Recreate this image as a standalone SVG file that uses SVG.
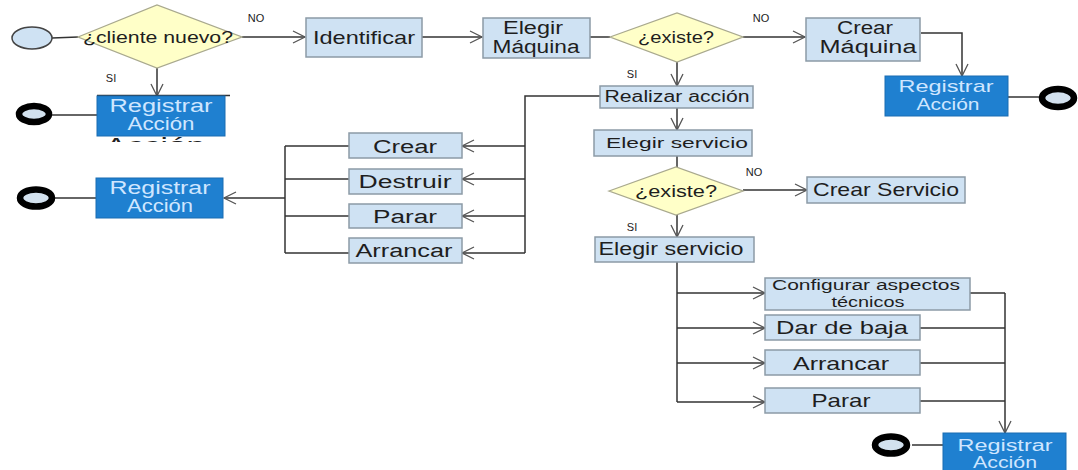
<svg xmlns="http://www.w3.org/2000/svg" width="1078" height="470" viewBox="0 0 1078 470">
  <defs>
    <marker id="open" markerUnits="userSpaceOnUse" markerWidth="16" markerHeight="16" refX="13" refY="7" orient="auto">
      <path d="M1,1 L13,7 L1,13" fill="none" stroke="#555" stroke-width="1.3"/>
    </marker>
    <clipPath id="underClip">
      <rect x="90" y="91" width="145" height="51"/>
    </clipPath>
    <style>
      .box { fill: #cfe2f3; stroke: #8c9aa6; stroke-width: 1.5; }
      .dec { fill: #ffffc8; stroke: #a9a98e; stroke-width: 1.3; }
      .reg { fill: #1f80d0; stroke: #1a6db2; stroke-width: 1; }
      .start { fill: #cfe2f3; stroke: #444; stroke-width: 1.5; }
      .end { fill: #d3e1ee; stroke: #000; stroke-width: 6.5; }
      .t { font-family: "Liberation Sans", Arial, sans-serif; fill: #1e1e1e; text-anchor: middle; }
      .tw { fill: #cfe6ff; }
      .tb { fill: #222; }
      .lbl { font-family: "Liberation Sans", Arial, sans-serif; font-size: 11px; fill: #222; text-anchor: middle; }
      .c { fill: none; stroke: #333; stroke-width: 1.5; }
      .a { marker-end: url(#open); }
    </style>
  </defs>
  <rect width="1078" height="470" fill="#ffffff"/>

  <!-- connectors -->
  <g id="connectors">
    <line class="c" x1="52" y1="38" x2="78" y2="37"/>
    <line class="c a" x1="242" y1="37" x2="305" y2="37"/>
    <line class="c a" x1="157" y1="68" x2="157" y2="96"/>
    <line class="c a" x1="422" y1="37" x2="482" y2="37"/>
    <line class="c" x1="590" y1="37" x2="610" y2="37"/>
    <line class="c a" x1="743" y1="37" x2="805" y2="37"/>
    <line class="c a" x1="677" y1="62" x2="677" y2="86"/>
    <polyline class="c a" points="921,33 962,33 962,76"/>
    <line class="c" x1="1008" y1="97" x2="1040" y2="97"/>
    <line class="c" x1="97" y1="115" x2="51" y2="115"/>

    <!-- actions on the machine -->
    <polyline class="c" points="600,96 525,96 525,253"/>
    <line class="c a" x1="525" y1="146" x2="462" y2="146"/>
    <line class="c a" x1="525" y1="179" x2="462" y2="179"/>
    <line class="c a" x1="525" y1="216" x2="462" y2="216"/>
    <line class="c a" x1="525" y1="253" x2="462" y2="253"/>
    <line class="c" x1="349" y1="146" x2="285" y2="146"/>
    <line class="c" x1="349" y1="179" x2="285" y2="179"/>
    <line class="c" x1="349" y1="216" x2="285" y2="216"/>
    <line class="c" x1="349" y1="253" x2="285" y2="253"/>
    <line class="c" x1="285" y1="146" x2="285" y2="253"/>
    <line class="c a" x1="285" y1="198" x2="224" y2="198"/>
    <line class="c" x1="96" y1="198" x2="54" y2="198"/>

    <!-- service flow -->
    <line class="c a" x1="677" y1="108" x2="677" y2="130"/>
    <line class="c" x1="677" y1="156" x2="677" y2="167"/>
    <line class="c a" x1="743" y1="190" x2="807" y2="190"/>
    <line class="c a" x1="677" y1="215" x2="677" y2="237"/>
    <line class="c" x1="677" y1="262" x2="677" y2="402"/>
    <line class="c a" x1="677" y1="293" x2="765" y2="293"/>
    <line class="c a" x1="677" y1="328" x2="765" y2="328"/>
    <line class="c a" x1="677" y1="363" x2="765" y2="363"/>
    <line class="c a" x1="677" y1="402" x2="765" y2="402"/>
    <line class="c" x1="970" y1="293" x2="1005" y2="293"/>
    <line class="c" x1="920" y1="328" x2="1005" y2="328"/>
    <line class="c" x1="920" y1="363" x2="1005" y2="363"/>
    <line class="c" x1="920" y1="401" x2="1005" y2="401"/>
    <line class="c a" x1="1005" y1="293" x2="1005" y2="433"/>
    <line class="c" x1="943" y1="445" x2="912" y2="445"/>
  </g>

  <!-- nodes -->
  <g id="start">
    <ellipse class="start" cx="32" cy="38" rx="20" ry="11"/>
  </g>

  <g id="dec-cliente">
    <polygon class="dec" points="78,37 157,5 242,37 157,68"/>
    <text class="t" x="158" y="43" font-size="16" textLength="150" lengthAdjust="spacingAndGlyphs">¿cliente nuevo?</text>
    <text class="lbl" x="256" y="22">NO</text>
    <text class="lbl" x="111" y="82">SI</text>
  </g>

  <g id="identificar">
    <rect class="box" x="306" y="18" width="116" height="39"/>
    <text class="t" x="364" y="44" font-size="19" textLength="102" lengthAdjust="spacingAndGlyphs">Identificar</text>
  </g>

  <g id="elegir-maquina">
    <rect class="box" x="483" y="18" width="107" height="40"/>
    <text class="t" x="533" y="34" font-size="18" textLength="60" lengthAdjust="spacingAndGlyphs">Elegir</text>
    <text class="t" x="536" y="53" font-size="18" textLength="87" lengthAdjust="spacingAndGlyphs">Máquina</text>
  </g>

  <g id="dec-maquina">
    <polygon class="dec" points="610,37 677,13 743,37 677,62"/>
    <text class="t" x="676" y="43" font-size="16" textLength="76" lengthAdjust="spacingAndGlyphs">¿existe?</text>
    <text class="lbl" x="761" y="22">NO</text>
    <text class="lbl" x="632" y="78">SI</text>
  </g>

  <g id="crear-maquina">
    <rect class="box" x="806" y="18" width="114" height="43"/>
    <text class="t" x="865" y="34" font-size="18" textLength="56" lengthAdjust="spacingAndGlyphs">Crear</text>
    <text class="t" x="868" y="53" font-size="18" textLength="97" lengthAdjust="spacingAndGlyphs">Máquina</text>
  </g>

  <g id="registrar-maquina">
    <rect class="reg" x="885" y="76" width="123" height="40"/>
    <text class="t tw" x="946" y="92" font-size="17" textLength="95" lengthAdjust="spacingAndGlyphs">Registrar</text>
    <text class="t tw" x="948" y="110" font-size="17" textLength="63" lengthAdjust="spacingAndGlyphs">Acción</text>
  </g>
  <g id="fin-maquina">
    <ellipse class="end" cx="1058" cy="98" rx="16" ry="9"/>
  </g>

  <g id="registrar-cliente">
    <!-- older label left underneath the box, only its edges stay visible -->
    <g clip-path="url(#underClip)">
      <line x1="97" y1="95.5" x2="230" y2="95.5" stroke="#333" stroke-width="1.3"/>
      <text class="t tb" x="160" y="112" font-size="22" textLength="128" lengthAdjust="spacingAndGlyphs">Registrar</text>
      <text class="t tb" x="155" y="153" font-size="22" textLength="100" lengthAdjust="spacingAndGlyphs">Acción</text>
    </g>
    <rect class="reg" x="97" y="96" width="128" height="40"/>
    <text class="t tw" x="161" y="112" font-size="18" textLength="103" lengthAdjust="spacingAndGlyphs">Registrar</text>
    <text class="t tw" x="161" y="130" font-size="18" textLength="67" lengthAdjust="spacingAndGlyphs">Acción</text>
  </g>
  <g id="fin-cliente">
    <ellipse class="end" cx="34" cy="114" rx="15" ry="8"/>
  </g>

  <g id="realizar-accion">
    <rect class="box" x="600" y="86" width="153" height="22"/>
    <text class="t" x="677" y="102" font-size="16" textLength="145" lengthAdjust="spacingAndGlyphs">Realizar acción</text>
  </g>

  <g id="crear">
    <rect class="box" x="349" y="133" width="113" height="25"/>
    <text class="t" x="405" y="153" font-size="18" textLength="64" lengthAdjust="spacingAndGlyphs">Crear</text>
  </g>
  <g id="destruir">
    <rect class="box" x="349" y="169" width="113" height="25"/>
    <text class="t" x="405" y="188" font-size="18" textLength="93" lengthAdjust="spacingAndGlyphs">Destruir</text>
  </g>
  <g id="parar-maquina">
    <rect class="box" x="349" y="204" width="113" height="24"/>
    <text class="t" x="405" y="223" font-size="18" textLength="64" lengthAdjust="spacingAndGlyphs">Parar</text>
  </g>
  <g id="arrancar-maquina">
    <rect class="box" x="349" y="238" width="113" height="25"/>
    <text class="t" x="404" y="257" font-size="18" textLength="97" lengthAdjust="spacingAndGlyphs">Arrancar</text>
  </g>

  <g id="registrar-accion">
    <rect class="reg" x="96" y="178" width="127" height="40"/>
    <text class="t tw" x="160" y="194" font-size="18" textLength="101" lengthAdjust="spacingAndGlyphs">Registrar</text>
    <text class="t tw" x="160" y="212" font-size="18" textLength="66" lengthAdjust="spacingAndGlyphs">Acción</text>
  </g>
  <g id="fin-accion">
    <ellipse class="end" cx="36" cy="198" rx="16" ry="8.5"/>
  </g>

  <g id="elegir-servicio">
    <rect class="box" x="594" y="130" width="158" height="26"/>
    <text class="t" x="677" y="148" font-size="15" textLength="142" lengthAdjust="spacingAndGlyphs">Elegir servicio</text>
  </g>

  <g id="dec-servicio">
    <polygon class="dec" points="609,191 676,167 743,191 676,215"/>
    <text class="t" x="676" y="197" font-size="16" textLength="82" lengthAdjust="spacingAndGlyphs">¿existe?</text>
    <text class="lbl" x="754" y="176">NO</text>
    <text class="lbl" x="632" y="231">SI</text>
  </g>

  <g id="crear-servicio">
    <rect class="box" x="807" y="177" width="158" height="26"/>
    <text class="t" x="886" y="196" font-size="19" textLength="146" lengthAdjust="spacingAndGlyphs">Crear Servicio</text>
  </g>

  <g id="elegir-servicio-2">
    <rect class="box" x="595" y="237" width="159" height="25"/>
    <text class="t" x="671" y="255" font-size="18" textLength="145" lengthAdjust="spacingAndGlyphs">Elegir servicio</text>
  </g>

  <g id="configurar">
    <rect class="box" x="765" y="278" width="205" height="32"/>
    <text class="t" x="866" y="290" font-size="14" textLength="188" lengthAdjust="spacingAndGlyphs">Configurar aspectos</text>
    <text class="t" x="868" y="307" font-size="14" textLength="73" lengthAdjust="spacingAndGlyphs">técnicos</text>
  </g>
  <g id="dar-de-baja">
    <rect class="box" x="765" y="315" width="155" height="25"/>
    <text class="t" x="842" y="334" font-size="19" textLength="132" lengthAdjust="spacingAndGlyphs">Dar de baja</text>
  </g>
  <g id="arrancar-servicio">
    <rect class="box" x="765" y="350" width="155" height="25"/>
    <text class="t" x="841" y="370" font-size="19" textLength="96" lengthAdjust="spacingAndGlyphs">Arrancar</text>
  </g>
  <g id="parar-servicio">
    <rect class="box" x="765" y="388" width="155" height="25"/>
    <text class="t" x="841" y="407" font-size="19" textLength="59" lengthAdjust="spacingAndGlyphs">Parar</text>
  </g>

  <g id="registrar-servicio">
    <rect class="reg" x="943" y="433" width="123" height="40"/>
    <text class="t tw" x="1005" y="451" font-size="16" textLength="95" lengthAdjust="spacingAndGlyphs">Registrar</text>
    <text class="t tw" x="1005" y="468" font-size="16" textLength="64" lengthAdjust="spacingAndGlyphs">Acción</text>
  </g>
  <g id="fin-servicio">
    <ellipse class="end" cx="891" cy="445" rx="16" ry="8.5"/>
  </g>
</svg>
